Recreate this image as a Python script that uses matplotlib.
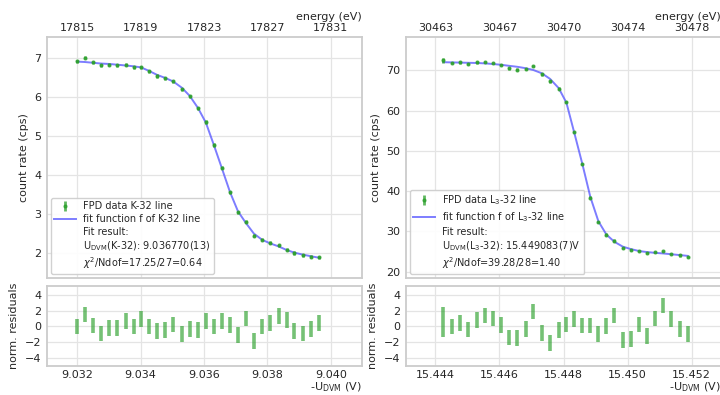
import matplotlib
matplotlib.use("Agg")
import matplotlib.pyplot as plt
from matplotlib.lines import Line2D

# ---- K-32 line (left) ----
k_u = [9.03200, 9.03224, 9.03250, 9.03276, 9.03301, 9.03327, 9.03354, 9.03378,
       9.03402, 9.03427, 9.03452, 9.03478, 9.03503, 9.03530, 9.03555, 9.03581,
       9.03606, 9.03631, 9.03656, 9.03682, 9.03707, 9.03732, 9.03757, 9.03783,
       9.03808, 9.03835, 9.03860, 9.03885, 9.03911, 9.03936, 9.03962]
k_rate = [6.92, 7.01, 6.89, 6.82, 6.83, 6.82, 6.83, 6.77, 6.77, 6.66, 6.54, 6.48,
          6.41, 6.20, 6.02, 5.71, 5.36, 4.77, 4.19, 3.56, 3.05, 2.80, 2.45, 2.34,
          2.26, 2.20, 2.09, 2.00, 1.94, 1.91, 1.89]
k_err = [0.04] * 31
k_fit = [6.91, 6.90, 6.88, 6.86, 6.85, 6.83, 6.81, 6.79, 6.76, 6.67, 6.57, 6.49,
         6.40, 6.24, 6.03, 5.72, 5.34, 4.77, 4.18, 3.56, 3.07, 2.77, 2.50, 2.34,
         2.25, 2.17, 2.08, 2.01, 1.96, 1.92, 1.88]
k_res = [0.0, 1.5, 0.1, -0.9, -0.25, -0.2, 0.65, 0.0, 0.9, 0.0, -0.6, -0.5,
         0.25, -1.0, -0.3, -0.5, 0.65, 0.0, 0.65, 0.2, -1.1, 1.0, -1.9, 0.0,
         0.45, 1.3, 0.8, -0.55, -0.9, -0.3, 0.45]
k_res_err = [1.0] * 31
k_ticks = [9.032, 9.034, 9.036, 9.038, 9.040]
k_ticklabels = ["9.032", "9.034", "9.036", "9.038", "9.040"]
k_energy = ["17815", "17819", "17823", "17827", "17831"]

# ---- L3-32 line (right) ----
l_u = [15.44425, 15.44451, 15.44477, 15.44503, 15.44530, 15.44556, 15.44580,
       15.44605, 15.44630, 15.44656, 15.44682, 15.44706, 15.44732, 15.44758,
       15.44785, 15.44809, 15.44834, 15.44859, 15.44884, 15.44909, 15.44934,
       15.44959, 15.44985, 15.45010, 15.45036, 15.45061, 15.45086, 15.45112,
       15.45137, 15.45163, 15.45188]
l_rate = [72.5, 71.85, 72.0, 71.6, 72.0, 72.05, 71.8, 71.3, 70.5, 70.2, 70.4,
          71.05, 69.0, 67.3, 65.5, 62.1, 54.7, 46.8, 38.4, 32.3, 29.2, 27.7,
          25.9, 25.4, 25.05, 24.6, 24.8, 25.05, 24.4, 24.0, 23.6]
l_err = [0.6] + [0.3] * 30
l_fit = [72.05, 72.0, 71.95, 71.9, 71.85, 71.75, 71.6, 71.4, 71.15, 70.9, 70.55,
         70.1, 69.3, 67.9, 65.6, 62.0, 54.4, 46.7, 38.5, 32.5, 29.2, 27.4, 26.2,
         25.6, 25.1, 24.85, 24.65, 24.5, 24.3, 24.1, 23.9]
l_res = [0.55, 0.0, 0.4, -0.4, 0.8, 1.4, 1.0, 0.2, -1.4, -1.5, -0.3, 1.9, -0.85,
         -2.15, -0.5, 0.25, 0.9, 0.1, 0.1, -1.0, 0.05, 1.4, -1.7, -1.6, 0.25,
         -1.2, 1.0, 2.65, 0.9, -0.35, -1.0]
l_res_err = [1.95] + [1.0] * 30
l_ticks = [15.444, 15.446, 15.448, 15.450, 15.452]
l_ticklabels = ["15.444", "15.446", "15.448", "15.450", "15.452"]
l_energy = ["30463", "30467", "30470", "30474", "30478"]

plt.rcParams["font.family"] = "DejaVu Sans"
plt.rcParams["font.size"] = 8
plt.rcParams["text.color"] = "#262626"
plt.rcParams["axes.labelcolor"] = "#262626"
plt.rcParams["xtick.color"] = "#262626"
plt.rcParams["ytick.color"] = "#262626"

green = "#2ca02c"
blue = "#5c5cff"


def style(ax):
    for s in ax.spines.values():
        s.set_color("#cccccc")
        s.set_linewidth(1.3)
    ax.grid(True, color="#e4e4e4", linewidth=0.9)
    ax.set_axisbelow(True)
    ax.tick_params(length=0, labelsize=8, pad=4)


def panel(x0, u, rate, err, fit, res, res_err, ticks, ticklabels, energy,
          xlim, ylim, yticks, name, fitres, chi):
    ax = fig.add_axes([x0, 0.2962, 0.4375, 0.610])
    axr = fig.add_axes([x0, 0.0735, 0.4375, 0.2025])
    style(ax)
    style(axr)
    data = ax.errorbar(u, rate, yerr=err, fmt=".", color=green, alpha=0.75,
                       markersize=4, elinewidth=2, capsize=0, zorder=3)
    line, = ax.plot(u, fit, color=blue, alpha=0.8, linewidth=1.4, zorder=2)
    blank = Line2D([], [], color="none")
    ax.legend([data, line, blank],
              ["FPD data " + name + " line",
               "fit function f of " + name + " line",
               "Fit result:\n" + fitres + "\n" + chi],
              loc="lower left", fontsize=7, frameon=True,
              edgecolor="#cccccc", framealpha=0.9, borderaxespad=0.4,
              handlelength=2.2, labelspacing=0.3, borderpad=0.35)
    ax.set_xlim(*xlim)
    ax.set_ylim(*ylim)
    ax.set_yticks(yticks)
    ax.set_xticks(ticks)
    ax.set_xticklabels([])
    ax.set_ylabel("count rate (cps)", fontsize=8)

    top = ax.twiny()
    top.set_xlim(*xlim)
    top.set_xticks(ticks)
    top.set_xticklabels(energy)
    top.tick_params(length=0, labelsize=8, pad=3)
    for s in top.spines.values():
        s.set_visible(False)
    top.set_xlabel("energy (eV)", loc="right", fontsize=8, labelpad=2)

    axr.errorbar(u, res, yerr=res_err, fmt="none", ecolor=green, alpha=0.65,
                 elinewidth=2.6, capsize=0)
    axr.set_xlim(*xlim)
    axr.set_ylim(-5.05, 5.15)
    axr.set_yticks([-4, -2, 0, 2, 4])
    axr.set_xticks(ticks)
    axr.set_xticklabels(ticklabels)
    axr.tick_params(axis="x", pad=3)
    axr.set_ylabel("norm. residuals", fontsize=8)
    axr.set_xlabel(r"-U$_{\mathrm{DVM}}$ (V)", loc="right", fontsize=8,
                   labelpad=0)
    return ax, axr


fig = plt.figure(figsize=(7.2, 3.95), dpi=100)

panel(0.0653, k_u, k_rate, k_err, k_fit, k_res, k_res_err, k_ticks,
      k_ticklabels, k_energy, (9.03105, 9.04098), (1.36, 7.54),
      [2, 3, 4, 5, 6, 7], "K-32",
      r"U$_{\mathrm{DVM}}$(K-32): 9.036770(13)",
      r"$\chi^2$/Ndof=17.25/27=0.64")

panel(0.5639, l_u, l_rate, l_err, l_fit, l_res, l_res_err, l_ticks,
      l_ticklabels, l_energy, (15.44308, 15.45292), (18.4, 78.3),
      [20, 30, 40, 50, 60, 70], r"L$_{3}$-32",
      r"U$_{\mathrm{DVM}}$(L$_{3}$-32): 15.449083(7)V",
      r"$\chi^2$/Ndof=39.28/28=1.40")

fig.savefig("out.png", dpi=100)
